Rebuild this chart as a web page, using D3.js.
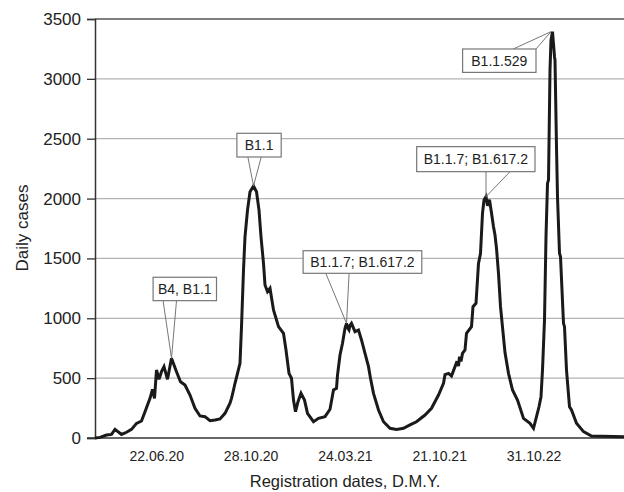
<!DOCTYPE html>
<html>
<head>
<meta charset="utf-8">
<script src="https://cdn.jsdelivr.net/npm/d3@7/dist/d3.min.js"></script>
<style>
  html, body { margin: 0; padding: 0; background: #fff; }
  svg { display: block; font-family: "Liberation Sans", Arial, sans-serif; }
</style>
</head>
<body>
<svg id="chart" width="624" height="492"></svg>
<script>
// ---- data ----
// position along the registration-date axis (sample index) and daily cases
const pos = [0, 5, 11.5, 16.5, 20, 25, 26.5, 31.5, 36.5, 41.5, 46.5, 50, 55, 57.5, 59.5, 61.5, 64, 66.5, 69, 72.5, 76.5,
  81.5, 85.5, 90, 95, 100, 105, 110, 115, 120, 125, 130, 135, 136.5, 138.5, 140, 142.5, 145, 146.5, 148.5, 150, 152.5,
  155, 158.5, 161.5, 164, 166, 168.5, 170, 172.5, 175, 178.5, 183.5, 188.5, 191, 194, 196.5, 198.5, 200.5, 203, 206,
  209.5, 212.5, 218.5, 223.5, 230, 235, 238.5, 241.5, 242.5, 245, 247.5, 250, 251.5, 253, 254, 255, 256.5, 260, 263.5,
  266.5, 270, 273.5, 275.5, 278.5, 283.5, 288.5, 295, 301.5, 308.5, 315, 321.5, 330, 336.5, 343.5, 348.5, 350, 353.5,
  356.5, 360, 362, 363.5, 364.5, 366, 367.5, 370, 371.5, 376.5, 378, 381, 383.5, 385.5, 387.5, 389, 391, 392.5, 394.5,
  396.5, 398.5, 400, 401.5, 403.5, 405.5, 410, 413.5, 417.5, 422.5, 428.5, 435, 438.5, 441.5, 444, 446, 447.5, 449.5,
  451, 452.5, 453.5, 455, 456, 457.5, 459.5, 460, 461.5, 462.5, 464.5, 465.5, 468.5, 469.5, 471.5, 474.5, 476.5, 481.5,
  488.5, 496.5, 529];
const cases = [0, 5, 25, 30, 72, 40, 30, 48, 72, 122, 142, 220, 331, 406, 331, 568, 490, 554, 596, 490, 666,
  554, 470, 443, 359, 248, 184, 178, 145, 150, 159, 206, 290, 331, 401, 457, 540, 624, 930, 1403, 1681, 1904,
  2057, 2105, 2057, 1904, 1681, 1459, 1278, 1222, 1250, 1069, 930, 874, 735, 540, 499, 317, 220, 303, 373,
  317, 206, 136, 164, 178, 240, 401, 415, 526, 693, 791, 916, 958, 915, 902, 940, 958, 888, 902, 819,
  707, 596, 499, 373, 234, 136, 81, 72, 81, 109, 136, 192, 248, 359, 457, 530, 540, 518,
  596, 640, 600, 680, 640, 707, 735, 874, 930, 1097, 1125, 1459, 1540, 1877, 1988, 2016, 1940, 1990, 1880,
  1765, 1696, 1584, 1376, 1097, 714, 540, 401, 317, 164, 123, 81, 178, 261, 345, 568, 986, 1681,
  2127, 2155, 3074, 3324, 3394, 3185, 3157, 2433, 2016, 1543, 1515, 958, 930, 568, 261, 234, 123, 53,
  17, 10, 10];

const yTicks = [0, 500, 1000, 1500, 2000, 2500, 3000, 3500];
const xTickPos = [61.3, 155.6, 249.9, 344.2, 438.5];
const xTickLabels = ["22.06.20", "28.10.20", "24.03.21", "21.10.21", "31.10.22"];

// annotations: label text and the data point it points at
const annText = ["B4, B1.1", "B1.1", "B1.1.7; B1.617.2", "B1.1.7; B1.617.2", "B1.1.529"];
const annPos = [76.5, 158.5, 251.5, 391, 456];
const annVal = [666, 2105, 958, 2016, 3394];

// ---- layout ----
const svg = d3.select("#chart");
const L = 95, R = 624, T = 19, B = 438;

const x = d3.scaleLinear().domain([0, 529]).range([L, R]);
const y = d3.scaleLinear().domain([0, 3500]).range([B, T]);

// gridlines
svg.append("g").selectAll("line")
  .data(yTicks.filter(v => v > 0 && v < 3500))
  .join("line")
  .attr("x1", L).attr("x2", R)
  .attr("y1", d => y(d)).attr("y2", d => y(d))
  .attr("stroke", "#b3b3b3").attr("stroke-width", 1.2);

// top line
svg.append("line").attr("x1", L).attr("x2", R)
  .attr("y1", y(3500)).attr("y2", y(3500))
  .attr("stroke", "#555").attr("stroke-width", 1.5);

// y axis
const yAxis = d3.axisLeft(y).tickValues(yTicks).tickSize(8).tickPadding(6).tickFormat(d3.format("d"));
const gy = svg.append("g").attr("transform", `translate(${L},0)`).call(yAxis);
gy.select(".domain").attr("stroke", "#333").attr("stroke-width", 1.5);
gy.selectAll(".tick line").attr("stroke", "#333").attr("stroke-width", 1.3);
gy.selectAll(".tick text").attr("fill", "#222").style("font-size", "17px")
  .style("font-family", "'Liberation Sans', Arial, sans-serif");

// x axis (labels only)
const xAxis = d3.axisBottom(x).tickValues(xTickPos).tickSize(0).tickPadding(13)
  .tickFormat((d, i) => xTickLabels[i]);
const gx = svg.append("g").attr("transform", `translate(0,${B})`).call(xAxis);
gx.select(".domain").remove();
gx.selectAll(".tick text").attr("fill", "#222").style("font-size", "14px")
  .style("font-family", "'Liberation Sans', Arial, sans-serif");
svg.append("line").attr("x1", L - 8).attr("x2", R)
  .attr("y1", B).attr("y2", B).attr("stroke", "#333").attr("stroke-width", 1.5);

// axis titles
svg.append("text").attr("x", 345).attr("y", 487).attr("text-anchor", "middle")
  .attr("fill", "#222").style("font-size", "16.5px").text("Registration dates, D.M.Y.");
svg.append("text").attr("transform", "translate(28,228) rotate(-90)").attr("text-anchor", "middle")
  .attr("fill", "#222").style("font-size", "17px").text("Daily cases");

// line
const data = pos.map((p, i) => ({ p, v: cases[i] }));
const line = d3.line().x(d => x(d.p)).y(d => y(d.v));
svg.append("path").datum(data).attr("d", line)
  .attr("fill", "none").attr("stroke", "#1a1a1a").attr("stroke-width", 3)
  .attr("stroke-linejoin", "miter").attr("stroke-miterlimit", 3);

// callouts (box geometry relative to the target point)
const boxes = [
  { bx: -18.4, by: -81, w: 63.4, h: 23.4, b1: -8.4, b2: 5 },
  { bx: -16.6, by: -52.7, w: 44.3, h: 23.7, b1: -5.6, b2: 7.7 },
  { bx: -43.4, by: -72.6, w: 118.7, h: 22.6, b1: -20.7, b2: 2.6 },
  { bx: -69.3, by: -50, w: 118.3, h: 25, b1: 0, b2: 24 },
  { bx: -88.4, by: 17.3, w: 73.4, h: 23.4, b1: -37.7, b2: -15 }
];
const ann = svg.append("g");
annText.forEach((t, i) => {
  const tx = x(annPos[i]), ty = y(annVal[i]);
  const b = boxes[i];
  const left = tx + b.bx, top = ty + b.by;
  const baseY = b.by < 0 ? top + b.h : top;
  ann.append("path")
    .attr("d", `M${tx + b.b1},${baseY}L${tx},${ty}L${tx + b.b2},${baseY}`)
    .attr("fill", "none").attr("stroke", "#777").attr("stroke-width", 1);
  ann.append("rect").attr("x", left).attr("y", top).attr("width", b.w).attr("height", b.h)
    .attr("fill", "#fff").attr("stroke", "#777").attr("stroke-width", 1.2);
  ann.append("text").attr("x", left + b.w / 2).attr("y", top + b.h / 2 + 5)
    .attr("text-anchor", "middle").attr("fill", "#222").style("font-size", "14px").text(t);
});
</script>
</body>
</html>
